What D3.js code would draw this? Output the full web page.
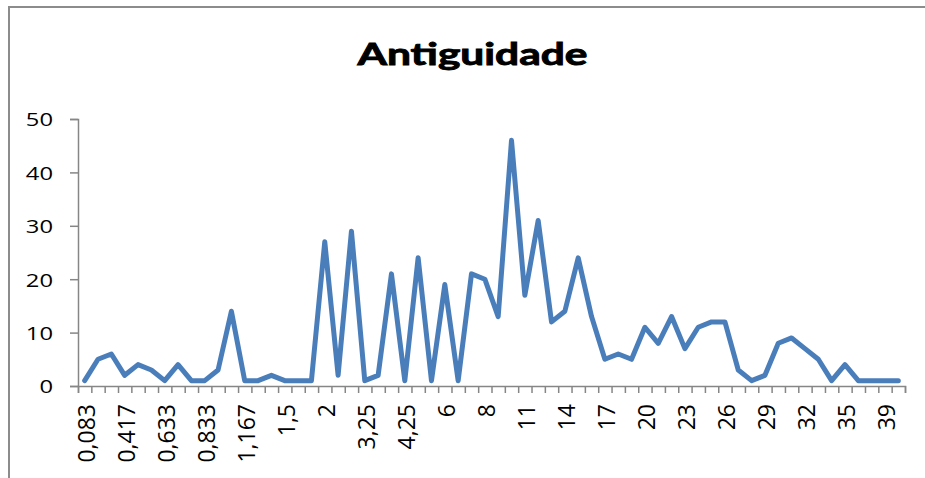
<!DOCTYPE html>
<html>
<head>
<meta charset="utf-8">
<script src="https://cdn.jsdelivr.net/npm/d3@7"></script>
<style>
  html, body { margin: 0; padding: 0; background: #fff; }
  svg { display: block; }
</style>
</head>
<body>
<svg id="chart" width="925" height="478"></svg>
<script>
const chartTitle = "Antiguidade";
// x tick labels: one every 3rd category (0, 3, 6, ... 60)
const tickLabels = ["0,083","0,417","0,633","0,833","1,167","1,5","2","3,25","4,25","6","8",
                    "11","14","17","20","23","26","29","32","35","39"];
const labelStep = 3;
// series values, one per category (62 categories)
const values = [1,5,6,2,4,3,1,4,1,1,3,14,1,1,2,1,1,1,27,2,
                29,1,2,21,1,24,1,19,1,21,20,13,46,17,31,12,14,24,13,5,
                6,5,11,8,13,7,11,12,12,3,1,2,8,9,7,5,1,4,1,1,
                1,1];
const categories = values.map((_, i) => i);
const yTicks = [0, 10, 20, 30, 40, 50];

const svg = d3.select("#chart");
const L = 78, R = 905, T = 119, B = 386;

// outer frame
svg.append("rect")
  .attr("x", 9).attr("y", 7).attr("width", 940).attr("height", 500)
  .attr("fill", "none").attr("stroke", "#8c8c8c").attr("stroke-width", 2);

// title
svg.append("text")
  .attr("x", 472.5).attr("y", 65)
  .attr("text-anchor", "middle")
  .attr("font-family", "Lato, 'Open Sans', sans-serif")
  .attr("font-weight", "bold")
  .attr("font-size", 31)
  .attr("textLength", 230)
  .attr("lengthAdjust", "spacingAndGlyphs")
  .attr("fill", "#000")
  .attr("stroke", "#000")
  .attr("stroke-width", 0.9)
  .text(chartTitle);

const x = d3.scaleBand().domain(categories).range([L, R]).padding(0);
const xEdge = d3.scaleLinear().domain([0, categories.length]).range([L, R]);
const y = d3.scaleLinear().domain([0, 50]).range([B, T]);

const axisColor = "#868686";

// y axis
const gy = svg.append("g").attr("transform", `translate(${L},0)`)
  .call(d3.axisLeft(y).tickValues(yTicks).tickSize(8).tickPadding(0));
gy.select(".domain").attr("stroke", axisColor).attr("stroke-width", 1.5);
gy.selectAll(".tick line").attr("stroke", axisColor).attr("stroke-width", 1.5);
gy.selectAll(".tick text")
  .attr("font-family", "'Open Sans', sans-serif")
  .attr("font-size", 19)
  .attr("fill", "#000")
  .attr("text-anchor", "end")
  .attr("x", (53 - L) / 1.25)
  .attr("dy", "0.36em")
  .attr("transform", "scale(1.25,1)");

// x axis tick marks at category boundaries
const gxt = svg.append("g").attr("transform", `translate(0,${B})`)
  .call(d3.axisBottom(xEdge).tickValues(d3.range(categories.length + 1)).tickSize(7).tickFormat(""));
gxt.select(".domain").attr("stroke", axisColor).attr("stroke-width", 1.5);
gxt.selectAll(".tick line").attr("stroke", axisColor).attr("stroke-width", 1.5);

// x labels
const gxl = svg.append("g").attr("transform", `translate(0,${B})`)
  .call(d3.axisBottom(x)
    .tickValues(categories.filter(i => i % labelStep === 0))
    .tickSize(0)
    .tickFormat(i => tickLabels[i / labelStep]));
gxl.select(".domain").remove();
gxl.selectAll(".tick text")
  .attr("font-family", "'Open Sans', sans-serif")
  .attr("font-size", 23)
  .attr("fill", "#000")
  .attr("text-anchor", "end")
  .attr("transform", "rotate(-90)")
  .attr("x", -18)
  .attr("y", 0)
  .attr("dy", 10);

// line
const line = d3.line()
  .x((d, i) => x(categories[i]) + x.bandwidth() / 2)
  .y(d => y(d));

svg.append("path")
  .datum(values)
  .attr("d", line)
  .attr("fill", "none")
  .attr("stroke", "#4a7ebb")
  .attr("stroke-width", 5)
  .attr("stroke-linejoin", "round")
  .attr("stroke-linecap", "round");
</script>
</body>
</html>
